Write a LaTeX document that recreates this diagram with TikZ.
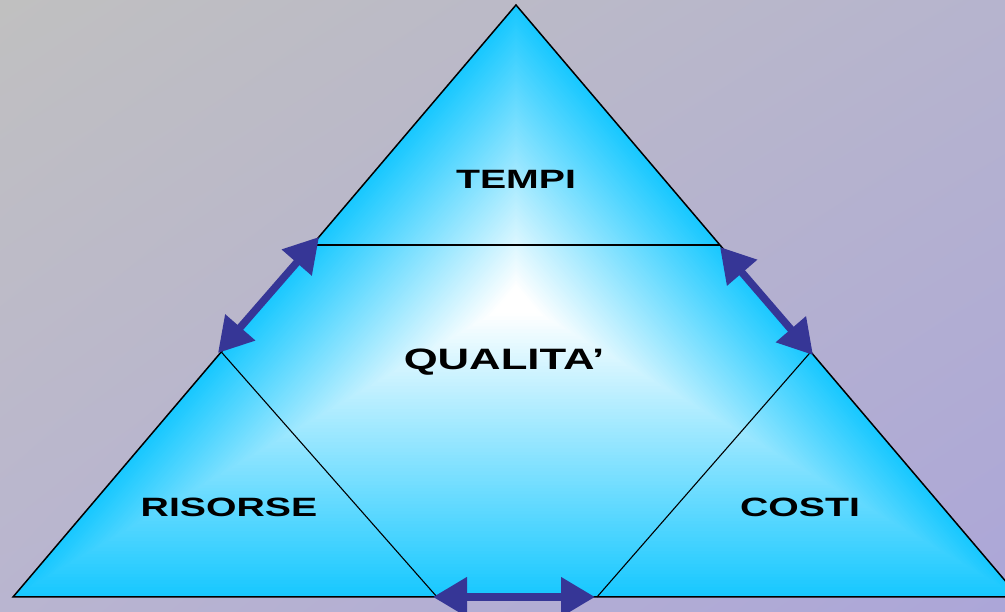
\documentclass[tikz,border=0pt]{standalone}
\usepackage{fontspec}
\setmainfont{Liberation Sans}
\usepackage{graphicx}
\usetikzlibrary{calc,arrows.meta,shadings}
\definecolor{cyanC}{RGB}{24,200,255}
\definecolor{arrowC}{RGB}{54,54,150}
\definecolor{bgTL}{RGB}{192,192,192}
\definecolor{bgTR}{RGB}{182,180,206}
\definecolor{bgBL}{RGB}{185,181,208}
\definecolor{bgBR}{RGB}{172,166,216}
\begin{document}
\begin{tikzpicture}[x=1pt,y=1pt,
  outline/.style={draw=black,line width=1.5pt,line join=miter},
  split/.style={draw=black,line width=1.1pt},
  dbl/.style={draw=arrowC,line width=7.5pt,{Triangle[length=34pt,width=38pt]}-{Triangle[length=34pt,width=38pt]}},
  lbl/.style={font=\bfseries\fontsize{26.5}{30}\selectfont,anchor=base,inner sep=0pt},
  biglbl/.style={font=\bfseries\fontsize{29.5}{33}\selectfont,anchor=base,inner sep=0pt}
]
\useasboundingbox (0,0) rectangle (1005,612);
\shade[upper left=bgTL,upper right=bgTR,lower left=bgBL,lower right=bgBR] (0,0) rectangle (1005,612);
\coordinate (A) at (516,607);
\coordinate (L) at (13,15);
\coordinate (R) at (1019,15);
\coordinate (C) at (516,312);
\coordinate (P1) at ($(A)!0.4054!(L)$);
\coordinate (P2) at ($(A)!0.4054!(R)$);
\coordinate (Q1) at ($(A)!0.586!(L)$);
\coordinate (Q2) at ($(A)!0.586!(R)$);
\coordinate (B1) at (437,15);
\coordinate (B2) at (597,15);
\coordinate (a1) at (319,375);
\coordinate (a2) at (218,259);
\coordinate (b1) at (720,365);
\coordinate (b2) at (813,257);
\coordinate (c1) at (433,15);
\coordinate (c2) at (595,15);
\begin{scope}
  \clip (0,0) rectangle (1005,612);
  \foreach \i in {0,...,89}{
    \pgfmathsetmacro\s{1-\i/90}
    \pgfmathsetmacro\p{max(0,min(100,100*(\s-0.05)/0.95))}
    \fill[cyanC!\p!white] ($(C)!\s!(A)$) -- ($(C)!\s!(L)$) -- ($(C)!\s!(R)$) -- cycle;
  }
  \draw[outline] (A) -- (L) -- (R) -- cycle;
  \draw[split] (P1) -- (P2);
  \draw[split] (Q1) -- (B1);
  \draw[split] (Q2) -- (B2);
  \draw[dbl] (a1) -- (a2);
  \draw[dbl] (b1) -- (b2);
  \draw[dbl] (c1) -- (c2);
\end{scope}
\node[lbl] (tempi) at (516,423) {\scalebox{1.48}[1]{TEMPI}};
\node[biglbl] (qual) at (504,242) {\scalebox{1.48}[1]{QUALITA’}};
\node[lbl] (ris) at (229,95) {\scalebox{1.48}[1]{RISORSE}};
\node[lbl] (costi) at (800,95) {\scalebox{1.48}[1]{COSTI}};
\end{tikzpicture}
\end{document}
